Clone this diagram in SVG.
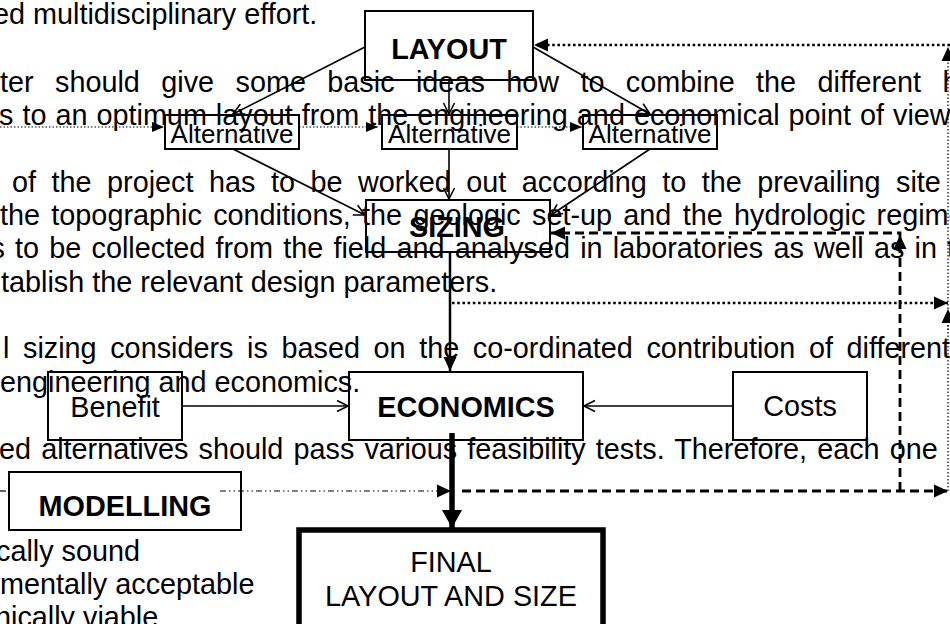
<svg xmlns="http://www.w3.org/2000/svg" width="950" height="624" viewBox="0 0 950 624">
<style>
.bg{font-family:"Liberation Sans",Arial,sans-serif;font-size:28.8px;fill:#000}
.box{fill:none;stroke:#000;stroke-width:2}
.lbl{font-family:"Liberation Sans",Arial,sans-serif;font-size:28.8px;fill:#000;text-anchor:middle}
.b{font-weight:bold}
.alt{font-family:"Liberation Sans",Arial,sans-serif;font-size:26px;fill:#000;text-anchor:middle}
.ln{fill:none;stroke:#000;stroke-width:1.6}
.thin-dot{fill:none;stroke:#000;stroke-width:1.2;stroke-dasharray:1.5 2}
.thick-dot{fill:none;stroke:#000;stroke-width:2.6;stroke-dasharray:2.6 2.6}
.dash{fill:none;stroke:#000;stroke-width:2.8;stroke-dasharray:9 5}
.dashdot{fill:none;stroke:#000;stroke-width:1.2;stroke-dasharray:6 3 1.5 3 1.5 3}
</style>
<defs>
<marker id="open" markerUnits="userSpaceOnUse" viewBox="-13 -8 15 16" markerWidth="15" markerHeight="16" refX="0" refY="0" orient="auto">
<path d="M-11,-5.5 L0,0 L-11,5.5" fill="none" stroke="#000" stroke-width="1.6"/>
</marker>
<marker id="tri" markerUnits="userSpaceOnUse" viewBox="-15 -8 16 16" markerWidth="16" markerHeight="16" refX="0" refY="0" orient="auto">
<path d="M-14,-6.5 L0,0 L-14,6.5 z" fill="#000"/>
</marker>
<marker id="tris" markerUnits="userSpaceOnUse" viewBox="-13 -7 14 14" markerWidth="14" markerHeight="14" refX="0" refY="0" orient="auto">
<path d="M-12,-5 L0,0 L-12,5 z" fill="#000"/>
</marker>
<marker id="trib" markerUnits="userSpaceOnUse" viewBox="-19 -11 20 22" markerWidth="20" markerHeight="22" refX="0" refY="0" orient="auto">
<path d="M-18,-10 L0,0 L-18,10 z" fill="#000"/>
</marker>
</defs>
<rect width="950" height="624" fill="#fff"/>
<g id="background-text">
<text class="bg" x="-7" y="24">ed multidisciplinary effort.</text>
<text class="bg" x="0" y="92" word-spacing="13.4">ter should give some basic ideas how to combine the different h</text>
<text class="bg" x="-1" y="125" word-spacing="1">s to an optimum layout from the engineering and economical point of view</text>
<text class="bg" x="12" y="192" word-spacing="7.5">of the project has to be worked out according to the prevailing site</text>
<text class="bg" x="0" y="225" word-spacing="3.3">the topographic conditions, the geologic set-up and the hydrologic regime</text>
<text class="bg" x="-9.5" y="258" word-spacing="2.2">s to be collected from the field and analysed in laboratories as well as in t</text>
<text class="bg" x="1" y="291.5">tablish the relevant design parameters.</text>
<text class="bg" x="3" y="358" word-spacing="5.6">l sizing considers is based on the co-ordinated contribution of different</text>
<text class="bg" x="0" y="392">engineering and economics.</text>
<text class="bg" x="-1" y="459" word-spacing="2.1">ed alternatives should pass various feasibility tests. Therefore, each one</text>
<text class="bg" x="-4" y="561">cally sound</text>
<text class="bg" x="0" y="594">mentally acceptable</text>
<text class="bg" x="-5" y="627">nically viable</text>
</g>
<g id="connectors">
<line class="ln" x1="365" y1="47" x2="233" y2="114" marker-end="url(#open)"/>
<line class="ln" x1="449" y1="80" x2="449" y2="114" marker-end="url(#open)"/>
<line class="ln" x1="533" y1="47" x2="650" y2="114" marker-end="url(#open)"/>
<line class="ln" x1="233" y1="149" x2="365" y2="215" marker-end="url(#open)"/>
<line class="ln" x1="449" y1="149" x2="449" y2="199" marker-end="url(#open)"/>
<line class="ln" x1="650" y1="149" x2="551" y2="215" marker-end="url(#open)"/>
<line x1="450" y1="252" x2="450" y2="371" stroke="#000" stroke-width="2.5" marker-end="url(#tri)"/>
<line class="ln" x1="182" y1="406" x2="348" y2="406" marker-end="url(#open)"/>
<line class="ln" x1="733" y1="406" x2="584" y2="406" marker-end="url(#open)"/>
<line x1="452" y1="433" x2="452" y2="528" stroke="#000" stroke-width="5.5" marker-end="url(#trib)"/>
<line class="thin-dot" x1="0" y1="127" x2="164" y2="127" marker-end="url(#tris)"/>
<line class="thin-dot" x1="299" y1="127" x2="378" y2="127" marker-end="url(#tris)"/>
<line class="thin-dot" x1="517" y1="127" x2="582" y2="127" marker-end="url(#tris)"/>
<line class="thick-dot" x1="950" y1="45" x2="534" y2="45" marker-end="url(#tri)"/>
<line class="thin-dot" x1="948" y1="491" x2="948" y2="47" marker-end="url(#tri)"/>
<line class="thin-dot" x1="948" y1="330" x2="948" y2="309" marker-end="url(#tri)"/>
<polyline class="dash" points="900,491 900,233 551,233" marker-end="url(#tri)"/>
<line x1="900" y1="250" x2="900" y2="235" stroke="none" marker-end="url(#tri)"/>
<line class="thick-dot" x1="452" y1="303" x2="948" y2="303" marker-end="url(#tri)"/>
<line class="dashdot" x1="0" y1="491" x2="9" y2="491"/>
<line class="dashdot" x1="220" y1="491" x2="451" y2="491" marker-end="url(#tri)"/>
<line class="dash" x1="462" y1="491" x2="948" y2="491" marker-end="url(#tri)"/>
</g>
<g id="layout"><rect class="box" x="365" y="11" width="168" height="69"/><text class="lbl b" x="449" y="59">LAYOUT</text></g>
<g id="alt1"><rect class="box" x="165" y="115" width="134" height="34"/><text class="alt" x="232" y="143">Alternative</text></g>
<g id="alt2"><rect class="box" x="382" y="115" width="135" height="34"/><text class="alt" x="449.5" y="143">Alternative</text></g>
<g id="alt3"><rect class="box" x="583" y="115" width="134" height="34"/><text class="alt" x="650" y="143">Alternative</text></g>
<g id="sizing"><rect class="box" x="366" y="200" width="184" height="52"/><text class="lbl b" x="457" y="237">SIZING</text></g>
<g id="economics"><rect class="box" x="349" y="372" width="234" height="68"/><text class="lbl b" x="466" y="417">ECONOMICS</text></g>
<g id="benefit"><rect class="box" x="48" y="372" width="134" height="68"/><text class="lbl" x="115" y="417">Benefit</text></g>
<g id="costs"><rect class="box" x="733" y="372" width="134" height="68"/><text class="lbl" x="800" y="416">Costs</text></g>
<g id="modelling"><rect class="box" x="9" y="472" width="232" height="58"/><text class="lbl b" x="125" y="516">MODELLING</text></g>
<g id="final"><rect x="299" y="530" width="304" height="110" fill="none" stroke="#000" stroke-width="5.5"/><text class="lbl" x="451" y="572">FINAL</text><text class="lbl" x="451" y="606">LAYOUT AND SIZE</text></g>
</svg>
